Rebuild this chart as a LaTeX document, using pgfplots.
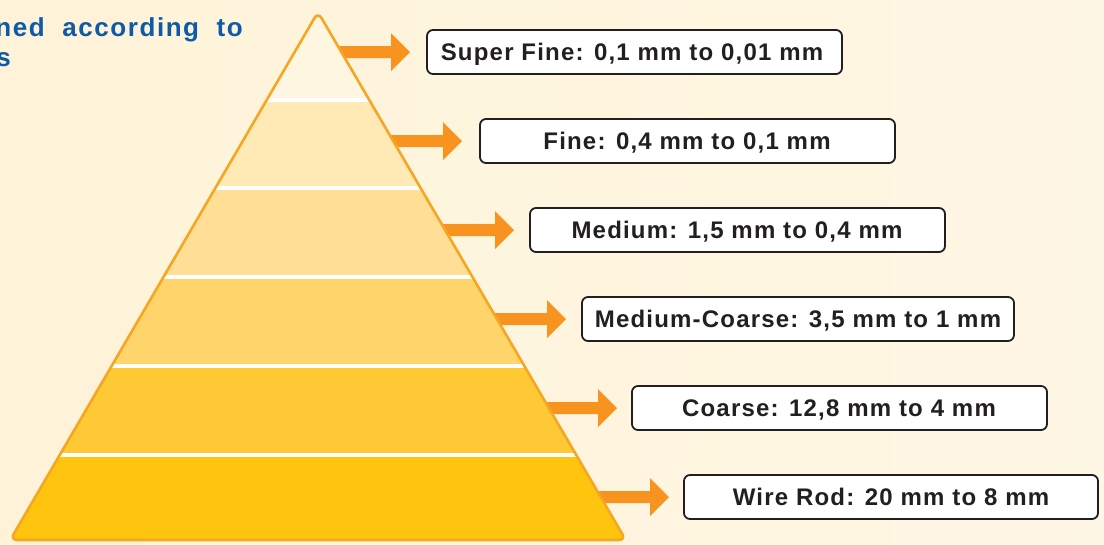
\documentclass[border=0pt]{standalone}
\usepackage{pgfplots}
\pgfplotsset{compat=1.18}
\usepackage{fontspec}
\setmainfont{Liberation Sans}
\newfontfamily\lab[LetterSpace=5]{Liberation Sans}
\newfontfamily\hfont[LetterSpace=6, WordSpace=2]{Liberation Sans}
\definecolor{bg}{HTML}{FEF3D8}
\definecolor{bgB}{HTML}{FFF7E5}
\definecolor{Lone}{HTML}{FFF6E1}
\definecolor{Ltwo}{HTML}{FFEAB6}
\definecolor{Lthree}{HTML}{FFDF96}
\definecolor{Lfour}{HTML}{FFD56B}
\definecolor{Lfive}{HTML}{FFC935}
\definecolor{Lsix}{HTML}{FFC40D}
\definecolor{edge}{HTML}{F6A623}
\definecolor{arr}{HTML}{F7931E}
\definecolor{ink}{HTML}{231F20}
\definecolor{hblue}{HTML}{0D5AA7}
\begin{document}
\begin{tikzpicture}
\path[use as bounding box, clip] (0,0) rectangle (1104pt,544pt);
\begin{axis}[
  at={(0,0)}, anchor=south west,
  width=1104pt, height=544pt, scale only axis,
  xmin=0, xmax=1104, ymin=0, ymax=544, y dir=reverse,
  hide axis, clip=false]
% background
\fill[left color=bg, right color=bgB] (0,0) rectangle (1104,544);
% heading (partly cut off at the left edge, as in the reference)
\node[anchor=base east, text=hblue, font=\hfont\bfseries\fontsize{26}{30}\selectfont, inner sep=0pt] at (243,36) {defined according to};
\node[anchor=base east, text=hblue, font=\hfont\bfseries\fontsize{26}{30}\selectfont, inner sep=0pt] at (11,66) {its sizes};
% arrows (behind the pyramid)
\addplot[fill=arr, draw=none] coordinates {(326,46) (391,46) (391,33) (410,52) (391,71) (391,58) (326,58)} -- cycle;
\addplot[fill=arr, draw=none] coordinates {(378,135) (443,135) (443,122) (462,141) (443,160) (443,147) (378,147)} -- cycle;
\addplot[fill=arr, draw=none] coordinates {(430,224) (495,224) (495,211) (514,230) (495,249) (495,236) (430,236)} -- cycle;
\addplot[fill=arr, draw=none] coordinates {(482,313) (547,313) (547,300) (566,319) (547,338) (547,325) (482,325)} -- cycle;
\addplot[fill=arr, draw=none] coordinates {(534,402) (598,402) (598,389) (617,408) (598,427) (598,414) (534,414)} -- cycle;
\addplot[fill=arr, draw=none] coordinates {(586,491) (650,491) (650,478) (669,497) (650,516) (650,503) (586,503)} -- cycle;
% pyramid layers
\addplot[fill=Lone, draw=none, rounded corners=7pt] coordinates {(318,12) (625.8,540) (10.2,540)} -- cycle;
\addplot[fill=Lsix, draw=none, rounded corners=7pt] coordinates {(82.2,415) (553.8,415) (625.8,540) (10.2,540)} -- cycle;
\addplot[fill=Lfive, draw=none] coordinates {(111.6,366) (524.4,366) (576.3,455) (59.7,455)} -- cycle;
\addplot[fill=Lfour, draw=none] coordinates {(163.5,277) (472.5,277) (524.4,366) (111.6,366)} -- cycle;
\addplot[fill=Lthree, draw=none] coordinates {(215.4,188) (420.6,188) (472.5,277) (163.5,277)} -- cycle;
\addplot[fill=Ltwo, draw=none] coordinates {(266.7,100) (369.3,100) (420.6,188) (215.4,188)} -- cycle;
% white separators
\addplot[white, line width=4pt] coordinates {(266.7,100) (369.3,100)};
\addplot[white, line width=4pt] coordinates {(215.4,188) (420.6,188)};
\addplot[white, line width=4pt] coordinates {(163.5,277) (472.5,277)};
\addplot[white, line width=4pt] coordinates {(111.6,366) (524.4,366)};
\addplot[white, line width=4pt] coordinates {(59.7,455) (576.3,455)};
% outline
\addplot[draw=edge, line width=2.6pt, rounded corners=7pt] coordinates {(318,12) (625.8,540) (10.2,540)} -- cycle;
% label boxes
\tikzset{lbox/.style={draw=ink, fill=white, line width=1.8pt, rounded corners=6pt}}
\tikzset{ltxt/.style={text=ink, font=\lab\bfseries\fontsize{24}{28}\selectfont, inner sep=0pt, anchor=base}}
\draw[lbox] (427,30) rectangle (842,74);
\node[ltxt] at (632,60) {Super Fine: 0,1 mm to 0,01 mm};
\draw[lbox] (480,119) rectangle (895,163);
\node[ltxt] at (687,149) {Fine: 0,4 mm to 0,1 mm};
\draw[lbox] (530,208) rectangle (945,252);
\node[ltxt] at (737,238) {Medium: 1,5 mm to 0,4 mm};
\draw[lbox] (582,297) rectangle (1014,341);
\node[ltxt] at (798,327) {Medium-Coarse: 3,5 mm to 1 mm};
\draw[lbox] (632,386) rectangle (1047,430);
\node[ltxt] at (839,416) {Coarse: 12,8 mm to 4 mm};
\draw[lbox] (684,475) rectangle (1098,519);
\node[ltxt] at (891,505) {Wire Rod: 20 mm to 8 mm};
\end{axis}
\end{tikzpicture}
\end{document}
